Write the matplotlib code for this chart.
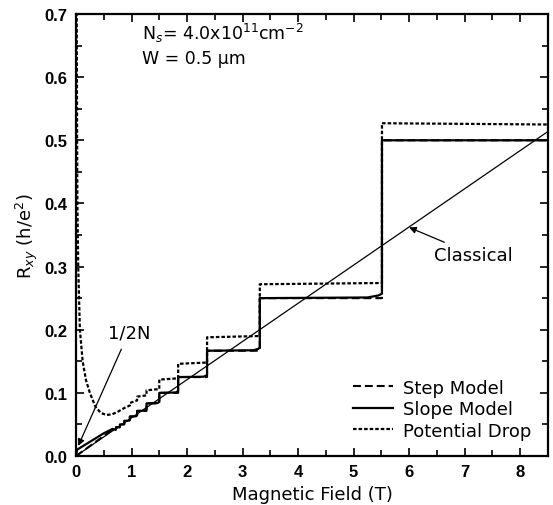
import numpy as np
import matplotlib
matplotlib.use("Agg")
import matplotlib.pyplot as plt
from matplotlib.ticker import MultipleLocator

# plateau edges (T) and quantised Hall values 1/(2N), N = 12 ... 1
edges = [0.66, 0.72, 0.79, 0.87, 0.97, 1.10, 1.27, 1.50, 1.84, 2.36, 3.31, 5.51, 8.5]
plateaus = [0.0417, 0.0455, 0.05, 0.0556, 0.0625, 0.0714, 0.0833, 0.1, 0.125, 0.1667, 0.25, 0.5]
# slope model: small rise just before each jump
slope_rise = [0.002, 0.002, 0.002, 0.003, 0.003, 0.003, 0.004, 0.004, 0.004, 0.005, 0.007, 0.0]

# low-field parts
step_low_B = [0.0, 0.66]
step_low_R = [0.0, 0.0417]
slope_low_B = [0.0, 0.02, 0.5, 0.66]
slope_low_R = [0.0, 0.01, 0.036, 0.043]

# potential drop curve
pd_B = [0.012, 0.02, 0.025, 0.04, 0.07, 0.12, 0.18, 0.25, 0.35, 0.45, 0.55, 0.65, 0.75,
        0.87, 0.97, 0.97, 1.10, 1.10, 1.27, 1.27, 1.50, 1.50, 1.84, 1.84, 2.36, 2.36,
        3.31, 3.31, 5.51, 5.51, 8.5]
pd_R = [0.72, 0.5, 0.4, 0.3, 0.2, 0.15, 0.12, 0.1, 0.078, 0.068, 0.065, 0.066, 0.07,
        0.076, 0.08, 0.084, 0.088, 0.094, 0.096, 0.104, 0.106, 0.121, 0.123, 0.146, 0.148, 0.188,
        0.19, 0.272, 0.274, 0.527, 0.525]

classical_B = [0.0, 8.5]
classical_R = [0.0, 0.514]

# build staircase paths
step_B = list(step_low_B)
step_R = list(step_low_R)
slope_B = list(slope_low_B)
slope_R = list(slope_low_R)
for i, p in enumerate(plateaus):
    lo, hi = edges[i], edges[i + 1]
    step_B += [lo, hi]
    step_R += [p, p]
    w = hi - lo
    slope_B += [lo, hi - 0.12 * w, hi - 0.03 * w, hi]
    slope_R += [p, p + 0.15 * slope_rise[i], p + 0.6 * slope_rise[i], p + slope_rise[i]]

fig = plt.figure(figsize=(5.53, 5.06), dpi=100)
ax = fig.add_axes([76 / 553, 1 - 457 / 506, 472 / 553, 442 / 506])

ax.plot(classical_B, classical_R, color="black", lw=0.9)
ax.plot(step_B, step_R, color="black", lw=1.5, ls=(0, (3.8, 1.9)), label="Step Model")
ax.plot(slope_B, slope_R, color="black", lw=1.6, label="Slope Model")
ax.plot(pd_B, pd_R, color="black", lw=1.6, ls=(0, (1.6, 0.9)), label="Potential Drop")

ax.set_xlim(0, 8.5)
ax.set_ylim(0, 0.7)

ax.xaxis.set_major_locator(MultipleLocator(1))
ax.xaxis.set_minor_locator(MultipleLocator(0.5))
ax.yaxis.set_major_locator(MultipleLocator(0.1))
ax.yaxis.set_minor_locator(MultipleLocator(0.05))
ax.tick_params(which="both", direction="in", top=True, right=True, width=1.2)
ax.tick_params(which="major", length=6, pad=6)
ax.tick_params(which="minor", length=4)
ax.yaxis.set_major_formatter(plt.FormatStrFormatter("%.1f"))
for lab in ax.get_xticklabels() + ax.get_yticklabels():
    lab.set_fontfamily("Liberation Sans")
    lab.set_fontweight("bold")
    lab.set_fontsize(12)
for s in ax.spines.values():
    s.set_linewidth(1.6)

ax.set_xlabel("Magnetic Field (T)", fontsize=13, labelpad=4)
ax.set_ylabel("R$_{xy}$ (h/e$^2$)", fontsize=13, labelpad=3)

ax.text(1.18, 0.67, "N$_s$= 4.0x10$^{11}$cm$^{-2}$", fontsize=12.5, va="center")
ax.text(1.18, 0.63, "W = 0.5 \u03bcm", fontsize=12.5, va="center")

ax.annotate("Classical", xy=(6.0, 0.362), xytext=(6.45, 0.319), fontsize=13,
            va="center", ha="left",
            arrowprops=dict(arrowstyle="-|>", color="black", lw=0.9, shrinkA=1, shrinkB=0,
                            mutation_scale=10))
ax.annotate("1/2N", xy=(0.04, 0.016), xytext=(0.57, 0.196), fontsize=13,
            va="center", ha="left",
            arrowprops=dict(arrowstyle="-|>", color="black", lw=0.9, shrinkA=4, shrinkB=0,
                            mutation_scale=10))

ax.legend(loc="lower right", frameon=False, fontsize=13, handlelength=2.2,
          handletextpad=0.6, labelspacing=0.2, borderaxespad=0.5)

fig.savefig("out.png", dpi=100)
